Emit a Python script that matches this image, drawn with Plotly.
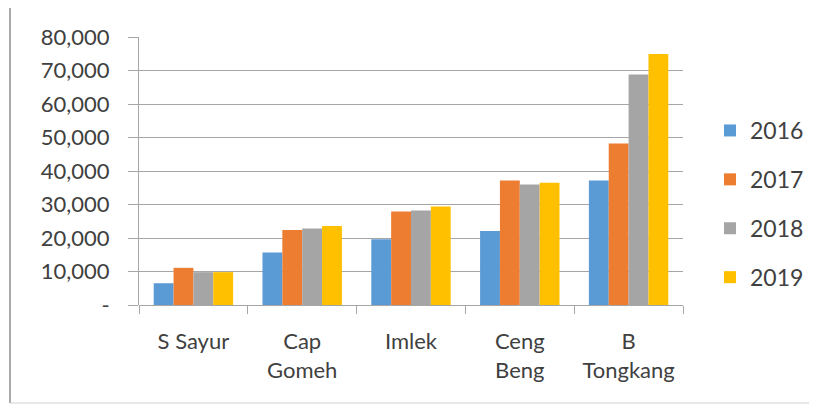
import plotly.graph_objects as go

categories = ["S Sayur", "Cap<br>Gomeh", "Imlek", "Ceng<br>Beng", "B<br>Tongkang"]
years = ["2016", "2017", "2018", "2019"]
v2016 = [6500, 15700, 19600, 22100, 37200]
v2017 = [11100, 22400, 27900, 37200, 48200]
v2018 = [9800, 22800, 28200, 36000, 68800]
v2019 = [9800, 23600, 29400, 36500, 74900]
series = [v2016, v2017, v2018, v2019]
colors = ["#5B9BD5", "#ED7D31", "#A5A5A5", "#FFC000"]

y_tickvals = [0, 10000, 20000, 30000, 40000, 50000, 60000, 70000, 80000]
y_ticktext = ["-", "10,000", "20,000", "30,000", "40,000", "50,000", "60,000", "70,000", "80,000"]

FONT = "Lato"
TXT = "#404040"
GRID = "#A6A6A6"

fig = go.Figure()
for name, vals, col in zip(years, series, colors):
    fig.add_trace(go.Bar(x=categories, y=vals, name=name, marker_color=col,
                         marker_line_width=0, legendgroup=name))

# page body has an 8px margin; work in figure coordinates
OFF = 8
W, H = 817 - OFF, 405 - OFF
L, R, T, B = 139 - OFF, 134, 37 - OFF, 100
pw, ph = W - L - R, H - T - B

def px(xw):
    return (xw - OFF - L) / pw

def py(yw):
    return (H - B - (yw - OFF)) / ph

fig.update_layout(
    width=W, height=H,
    margin=dict(l=L, r=R, t=T, b=B, autoexpand=False),
    paper_bgcolor="white", plot_bgcolor="white",
    barmode="group", bargap=0.27, bargroupgap=0,
    font=dict(family=FONT, size=22, color=TXT),
    legend=dict(x=px(710), xanchor="left", y=py(204), yanchor="middle",
                font=dict(family=FONT, size=23, color=TXT),
                traceorder="grouped", tracegroupgap=16,
                bgcolor="rgba(0,0,0,0)", borderwidth=0),
    xaxis=dict(type="category", tickson="boundaries", ticks="outside",
               ticklen=8, tickcolor=GRID, tickwidth=1, ticklabelstandoff=21,
               showline=False, showgrid=False, zeroline=False, automargin=False,
               tickfont=dict(family=FONT, size=22, color=TXT)),
    yaxis=dict(range=[0, 80000], tickvals=y_tickvals, ticktext=y_ticktext,
               ticks="outside", ticklen=10, tickcolor=GRID, tickwidth=1,
               ticklabelstandoff=14, automargin=False,
               showline=True, linecolor=GRID, linewidth=1,
               showgrid=True, gridcolor=GRID, gridwidth=1,
               zeroline=True, zerolinecolor=GRID, zerolinewidth=1,
               tickfont=dict(family=FONT, size=22, color=TXT)),
    shapes=[
        dict(type="line", xref="paper", yref="paper", x0=px(10), x1=px(817), y0=py(7), y1=py(7),
             line=dict(color="#8C8C8C", width=1.5)),
        dict(type="line", xref="paper", yref="paper", x0=px(10), x1=px(10), y0=py(7), y1=py(403),
             line=dict(color="#8C8C8C", width=1.5)),
        dict(type="line", xref="paper", yref="paper", x0=px(10), x1=px(817), y0=py(403), y1=py(403),
             line=dict(color="#D0D0D0", width=1)),
    ],
)

fig.write_html("out.html")
